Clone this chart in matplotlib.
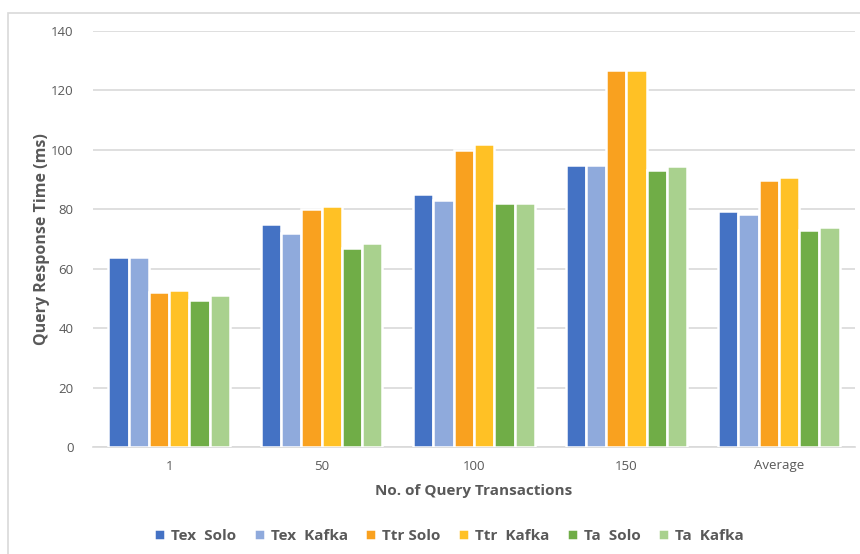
import numpy as np
import matplotlib.pyplot as plt
from matplotlib.patches import Rectangle

# Data
categories = ['1', '50', '100', '150', 'Average']
series_names = ['Tex  Solo', 'Tex  Kafka', 'Ttr Solo', 'Ttr  Kafka', 'Ta  Solo', 'Ta  Kafka']
tex_solo = [64, 75, 85.2, 95, 79.5]
tex_kafka = [64, 72, 83, 95, 78.5]
ttr_solo = [52, 80, 100, 127, 89.8]
ttr_kafka = [53, 81, 102, 127, 90.8]
ta_solo = [49.5, 67, 82.2, 93.2, 73]
ta_kafka = [51, 68.6, 82, 94.7, 74]
colors = ['#4472C4', '#8FAADC', '#F9A11F', '#FFC125', '#70AD47', '#A9D18E']

plt.rcParams['font.family'] = ['Open Sans', 'DejaVu Sans']
text_color = '#595959'

fig = plt.figure(figsize=(8.6, 5.54), dpi=100)
ax = fig.add_axes([93 / 860, (554 - 447) / 554, (855 - 93) / 860, (447 - 31) / 554])

# light chart border
fig.patches.append(Rectangle((8 / 860, -0.1), 1.2, (554 - 13) / 554 + 0.1,
                             transform=fig.transFigure, fill=False,
                             edgecolor='#D9D9D9', linewidth=1.2))

x = np.arange(len(categories))
all_series = [tex_solo, tex_kafka, ttr_solo, ttr_kafka, ta_solo, ta_kafka]
pitch = 0.133
for i, (vals, name, c) in enumerate(zip(all_series, series_names, colors)):
    offset = (i - 2.5) * pitch
    ax.bar(x + offset, vals, width=pitch, color=c, edgecolor='white',
           linewidth=1.8, label=name, zorder=3)

ax.set_xlim(-0.5, 4.5)
ax.set_ylim(0, 140)
ax.set_yticks(range(0, 141, 20))
ax.set_xticks(x)
ax.set_xticklabels(categories)
ax.grid(axis='y', color='#D9D9D9', linewidth=1.2, zorder=0)
for s in ['top', 'right', 'left']:
    ax.spines[s].set_visible(False)
ax.spines['bottom'].set_color('#D9D9D9')
ax.spines['bottom'].set_linewidth(1.2)
ax.tick_params(axis='both', length=0, colors=text_color, labelsize=9.5)
ax.tick_params(axis='y', pad=14)
ax.tick_params(axis='x', pad=9)

ax.set_ylabel('Query Response Time (ms)', fontsize=11.5, fontweight='bold',
              color=text_color, labelpad=1)
ax.set_xlabel('No. of Query Transactions', fontsize=11, fontweight='bold',
              color=text_color, labelpad=8)

leg = fig.legend(loc='center', bbox_to_anchor=(0.522, (554 - 536) / 554), ncol=6,
                 frameon=False, handlelength=0.7, handleheight=0.7,
                 handletextpad=0.4, columnspacing=1.15,
                 prop={'size': 11, 'weight': 'bold'})
for t in leg.get_texts():
    t.set_color(text_color)

fig.savefig('out.png', dpi=100)
